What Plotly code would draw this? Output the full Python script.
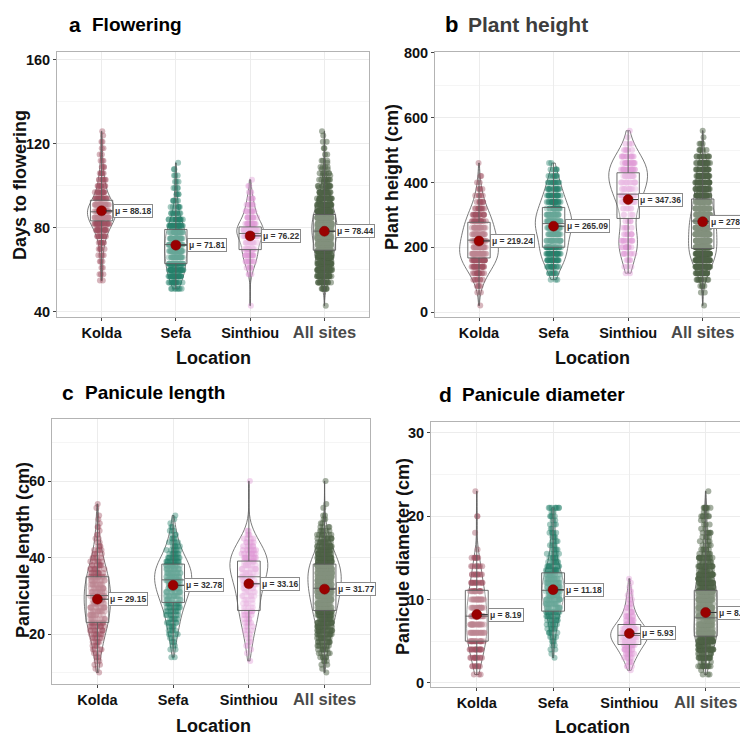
import numpy as np
import plotly.graph_objects as go

SITES = ["Kolda", "Sefa", "Sinthiou", "All sites"]

# ---------------- Panel a: days to flowering (value, count) ----------------
FLOW_KOLDA_V = [55, 58, 61, 64, 67, 70, 73, 76, 79, 82, 85, 88, 91, 94, 97, 100, 103, 106, 109, 112, 115, 118, 121, 124, 126]
FLOW_KOLDA_N = [2, 3, 2, 3, 4, 5, 8, 12, 18, 28, 36, 40, 32, 22, 14, 10, 8, 6, 4, 3, 2, 2, 2, 1, 1]
FLOW_SEFA_V = [51, 54, 57, 60, 63, 66, 69, 72, 75, 78, 81, 84, 87, 90, 93, 96, 99, 102, 105, 108, 111]
FLOW_SEFA_N = [8, 18, 26, 30, 32, 34, 36, 38, 34, 30, 26, 18, 10, 7, 5, 4, 4, 3, 3, 2, 1]
FLOW_SINT_V = [43, 58, 61, 64, 67, 70, 73, 76, 79, 82, 85, 88, 91, 94, 97, 100, 103]
FLOW_SINT_N = [1, 3, 6, 10, 14, 14, 12, 22, 30, 18, 12, 9, 7, 5, 3, 2, 1]
FLOW_Q1 = [83.4, 63.0, 69.7, 69.4]
FLOW_MED = [87.7, 72.1, 77.4, 78.5]
FLOW_Q3 = [93.2, 79.3, 80.5, 86.4]
FLOW_MEAN = [88.18, 71.81, 76.22, 78.44]

# ---------------- Panel b: plant height ----------------
HT_KOLDA_V = [20, 60, 80, 100, 120, 140, 160, 180, 200, 220, 240, 260, 280, 300, 320, 340, 360, 380, 400, 420, 460]
HT_KOLDA_N = [1, 2, 4, 8, 14, 20, 26, 30, 28, 26, 24, 22, 20, 16, 12, 8, 5, 4, 2, 2, 1]
HT_SEFA_V = [100, 120, 140, 160, 180, 200, 220, 240, 260, 280, 300, 320, 340, 360, 380, 400, 420, 440, 460]
HT_SEFA_N = [3, 8, 14, 20, 24, 24, 24, 28, 32, 34, 30, 26, 22, 18, 14, 12, 8, 5, 2]
HT_SINT_V = [120, 140, 160, 180, 200, 220, 240, 260, 280, 300, 320, 340, 360, 380, 400, 420, 440, 460, 480, 500, 520, 540, 560]
HT_SINT_N = [2, 3, 4, 7, 10, 10, 7, 5, 4, 5, 7, 9, 12, 14, 16, 18, 18, 16, 12, 5, 3, 1, 1]
HT_Q1 = [167, 200, 289, 196]
HT_MED = [222, 273, 364, 281]
HT_Q3 = [277, 323, 430, 349]
HT_MEAN = [219.24, 265.09, 347.36, 278.86]

# ---------------- Panel c: panicule length ----------------
PL_KOLDA_V = [10, 11, 12, 13, 14, 15, 16, 17, 18, 19, 20, 21, 22, 23, 24, 25, 26, 27, 28, 29, 30, 31,
              32, 33, 34, 35, 36, 37, 38, 39, 40, 41, 42, 43, 44, 45, 46, 47, 48, 49, 50, 51, 53, 54]
PL_KOLDA_N = [1, 1, 2, 2, 3, 3, 4, 4, 5, 6, 7, 8, 9, 10, 10, 11, 11, 12, 12, 12, 12, 12,
              12, 11, 11, 10, 9, 8, 7, 6, 5, 4, 4, 3, 2, 2, 2, 1, 2, 1, 1, 1, 1, 1]
PL_SEFA_V = [14, 16, 17, 18, 19, 20, 21, 22, 23, 24, 25, 26, 27, 28, 29, 30, 31, 32, 33, 34, 35,
             36, 37, 38, 39, 40, 41, 42, 43, 44, 45, 46, 47, 48, 49, 50, 51]
PL_SEFA_N = [2, 2, 2, 3, 3, 4, 5, 5, 6, 6, 7, 8, 9, 10, 12, 13, 14, 15, 16, 17, 17,
             17, 16, 15, 13, 11, 8, 7, 6, 5, 4, 3, 3, 2, 1, 1, 1]
PL_SINT_V = [13, 15, 16, 17, 18, 19, 20, 21, 22, 23, 24, 25, 26, 27, 28, 29, 30, 31, 32, 33, 34,
             35, 36, 37, 38, 39, 40, 41, 42, 43, 44, 45, 46, 47, 60]
PL_SINT_N = [1, 1, 1, 2, 2, 2, 2, 3, 3, 4, 4, 5, 5, 5, 5, 5, 6, 6, 6, 7, 7,
             8, 9, 10, 10, 10, 10, 9, 8, 6, 5, 4, 3, 2, 1]
PL_Q1 = [23.1, 28.3, 26.2, 26.2]
PL_MED = [30.1, 34.2, 35.0, 32.0]
PL_Q3 = [35.0, 38.3, 39.1, 38.3]
PL_MEAN = [29.15, 32.78, 33.16, 31.77]

# ---------------- Panel d: panicule diameter ----------------
PD_KOLDA_V = [1, 2, 3, 4, 5, 6, 7, 8, 9, 10, 11, 12, 13, 14, 15, 16, 18, 20, 23]
PD_KOLDA_N = [3, 8, 12, 16, 20, 22, 22, 22, 20, 20, 16, 14, 10, 8, 8, 1, 1, 2, 1]
PD_SEFA_V = [3, 3.5, 4, 4.5, 5, 5.5, 6, 6.5, 7, 7.5, 8, 8.5, 9, 9.5, 10, 10.5, 11, 11.5, 12, 12.5,
             13, 13.5, 14, 14.5, 15, 15.5, 16, 16.5, 17, 17.5, 18, 18.5, 19, 19.5, 20, 20.5, 21]
PD_SEFA_N = [1, 1, 2, 2, 3, 4, 5, 6, 7, 8, 10, 12, 14, 16, 18, 19, 20, 20, 19, 17,
             15, 12, 10, 8, 7, 6, 5, 4, 4, 4, 5, 2, 3, 2, 4, 2, 8]
PD_SINT_V = [1.5, 2, 2.5, 3, 3.5, 4, 4.5, 5, 5.5, 6, 6.5, 7, 7.5, 8, 8.5, 9, 9.5, 10, 10.5, 11, 11.5, 12, 12.5]
PD_SINT_N = [1, 3, 4, 6, 8, 10, 12, 16, 18, 18, 16, 12, 9, 7, 5, 4, 3, 3, 2, 2, 1, 1, 1]
PD_Q1 = [5.0, 8.6, 4.6, 5.6]
PD_MED = [8.0, 11.1, 5.7, 7.8]
PD_Q3 = [11.1, 13.2, 7.0, 11.1]
PD_MEAN = [8.19, 11.18, 5.93, 8.44]

# ---------------- styling ----------------
W, H = 740, 736
FONT = "Liberation Sans, Arial, sans-serif"
PT_COLORS = ["rgba(160,80,98,0.42)", "rgba(38,128,108,0.42)", "rgba(224,156,214,0.42)", "rgba(78,98,70,0.5)"]


def fx(px):
    return px / W


def fy(py):
    return 1 - py / H


def expand(v, n):
    return list(np.repeat(np.array(v, dtype=float), n))


panels = [
    dict(letter="a", title="Flowering", tcolor="#000", ytitle="Days to flowering",
         data=[(FLOW_KOLDA_V, FLOW_KOLDA_N), (FLOW_SEFA_V, FLOW_SEFA_N), (FLOW_SINT_V, FLOW_SINT_N)],
         q1=FLOW_Q1, med=FLOW_MED, q3=FLOW_Q3, mean=FLOW_MEAN,
         xdom=(57, 369), ydom=(52, 317), xr=(-0.6, 3.6), yr=(37.6, 163.8), dtick=40, mdtick=20,
         vw=[0.38, 0.30, 0.36, 0.34], lax=[11, 11, 11, 11],
         tpos=(67, 24), tsize=(21, 19), ytpos=(20, 185), xtpos=(213, 358)),
    dict(letter="b", title="Plant height", tcolor="#3d3d3d", ytitle="Plant height (cm)",
         data=[(HT_KOLDA_V, HT_KOLDA_N), (HT_SEFA_V, HT_SEFA_N), (HT_SINT_V, HT_SINT_N)],
         q1=HT_Q1, med=HT_MED, q3=HT_Q3, mean=HT_MEAN,
         xdom=(435, 740), ydom=(52, 317), xr=(-0.59, 3.50), yr=(-15.4, 803), dtick=200, mdtick=100,
         vw=[0.52, 0.49, 0.52, 0.38], lax=[11, 11, 10, 6],
         tpos=(443, 25), tsize=(22, 21), ytpos=(392, 177), xtpos=(592, 358)),
    dict(letter="c", title="Panicule length", tcolor="#000", ytitle="Panicule length (cm)",
         data=[(PL_KOLDA_V, PL_KOLDA_N), (PL_SEFA_V, PL_SEFA_N), (PL_SINT_V, PL_SINT_N)],
         q1=PL_Q1, med=PL_MED, q3=PL_Q3, mean=PL_MEAN,
         xdom=(52, 370), ydom=(419, 684), xr=(-0.6, 3.6), yr=(7.0, 76.2), dtick=20, mdtick=10,
         vw=[0.35, 0.49, 0.50, 0.44], lax=[11, 11, 11, 11],
         tpos=(60, 392), tsize=(21, 19), ytpos=(23, 550), xtpos=(213, 726)),
    dict(letter="d", title="Panicule diameter", tcolor="#000", ytitle="Panicule diameter (cm)",
         data=[(PD_KOLDA_V, PD_KOLDA_N), (PD_SEFA_V, PD_SEFA_N), (PD_SINT_V, PD_SINT_N)],
         q1=PD_Q1, med=PD_MED, q3=PD_Q3, mean=PD_MEAN,
         xdom=(431, 740), ydom=(422, 687), xr=(-0.6, 3.45), yr=(-0.5, 31.3), dtick=10, mdtick=5,
         vw=[0.27, 0.29, 0.49, 0.30], lax=[11, 11, 11, 11],
         tpos=(437, 394), tsize=(21, 19), ytpos=(403, 557), xtpos=(592, 727)),
]

fig = go.Figure()
annotations = []
layout_axes = {}

ticktext = ["Kolda", "Sefa", "Sinthiou",
            "<span style='font-size:16.5px;color:#4a4a4a'>All sites</span>"]

for i, p in enumerate(panels):
    sfx = "" if i == 0 else str(i + 1)
    xa, ya = "x" + sfx, "y" + sfx
    groups = [expand(v, n) for v, n in p["data"]]
    groups.append(groups[0] + groups[1] + groups[2])

    # violins (outline only)
    for k, site in enumerate(SITES):
        vals = groups[k]
        fig.add_trace(go.Violin(
            x=[site] * len(vals), y=vals, xaxis=xa, yaxis=ya,
            points=False, spanmode="hard", scalemode="width", width=p["vw"][k],
            line=dict(color="#5a5a5a", width=0.8), fillcolor="rgba(0,0,0,0)",
            box_visible=False, meanline_visible=False, showlegend=False, hoverinfo="skip"))

    # jittered points
    for k, site in enumerate(SITES):
        vals = groups[k]
        fig.add_trace(go.Box(
            x=[site] * len(vals), y=vals, xaxis=xa, yaxis=ya,
            boxpoints="all", jitter=1, pointpos=0, width=0.2,
            marker=dict(color=PT_COLORS[k], size=6, line=dict(width=0)),
            line=dict(width=0, color="rgba(0,0,0,0)"), fillcolor="rgba(0,0,0,0)",
            showlegend=False, hoverinfo="skip"))

    # box plots from quartiles
    lowf = [min(g) for g in groups]
    upf = [max(g) for g in groups]
    fig.add_trace(go.Box(
        x=SITES, q1=p["q1"], median=p["med"], q3=p["q3"], lowerfence=lowf, upperfence=upf,
        xaxis=xa, yaxis=ya, width=0.3, whiskerwidth=0, boxpoints=False,
        line=dict(color="#5e5e5e", width=0.9), fillcolor="rgba(255,255,255,0.3)",
        showlegend=False, hoverinfo="skip"))

    # means
    fig.add_trace(go.Scatter(
        x=SITES, y=p["mean"], xaxis=xa, yaxis=ya, mode="markers",
        marker=dict(color="#9a0000", size=10, line=dict(color="#7a0000", width=0.5)),
        showlegend=False, hoverinfo="skip"))

    for k, site in enumerate(SITES):
        annotations.append(dict(
            x=site, y=p["mean"][k], xref=xa, yref=ya, text="<b>μ = %.2f</b>" % p["mean"][k],
            showarrow=True, arrowhead=0, arrowwidth=1, arrowcolor="#333", ax=p["lax"][k], ay=0,
            standoff=4, xanchor="left", font=dict(family=FONT, size=8.5, color="#333"),
            bgcolor="white", bordercolor="#8a8a8a", borderwidth=1, borderpad=1))

    # axes
    layout_axes["xaxis" + sfx] = dict(
        domain=[fx(p["xdom"][0]), min(1.0, fx(p["xdom"][1]))], anchor=ya, type="category",
        categoryorder="array", categoryarray=SITES, range=list(p["xr"]),
        tickmode="array", tickvals=SITES, ticktext=ticktext, automargin=False,
        tickfont=dict(family=FONT, size=14.5, color="#111", weight="bold"),
        showgrid=True, gridcolor="#ececec", gridwidth=1, zeroline=False,
        showline=True, mirror=True, linecolor="#b3b3b3", linewidth=1,
        ticks="outside", ticklen=3, tickcolor="#444", fixedrange=True)
    layout_axes["yaxis" + sfx] = dict(
        domain=[fy(p["ydom"][1]), fy(p["ydom"][0])], anchor=xa, range=list(p["yr"]),
        tick0=0, dtick=p["dtick"], automargin=False,
        minor=dict(dtick=p["mdtick"], tick0=0, showgrid=True, gridcolor="#f5f5f5", gridwidth=1, ticklen=0),
        tickfont=dict(family=FONT, size=14.5, color="#111", weight="bold"),
        showgrid=True, gridcolor="#ececec", gridwidth=1, zeroline=False,
        showline=True, mirror=True, linecolor="#b3b3b3", linewidth=1,
        ticks="outside", ticklen=3, tickcolor="#444", fixedrange=True)

    # titles
    annotations.append(dict(x=fx(p["tpos"][0]), y=fy(p["tpos"][1]), xref="paper", yref="paper",
                            text="<b>%s</b>" % p["letter"], showarrow=False, xanchor="left", yanchor="middle",
                            font=dict(family=FONT, size=p["tsize"][0], color="#000")))
    annotations.append(dict(x=fx(p["tpos"][0] + 23), y=fy(p["tpos"][1]), xref="paper", yref="paper",
                            text="<b>%s</b>" % p["title"], showarrow=False, xanchor="left", yanchor="middle",
                            font=dict(family=FONT, size=p["tsize"][1], color=p["tcolor"])))
    annotations.append(dict(x=fx(p["ytpos"][0]), y=fy(p["ytpos"][1]), xref="paper", yref="paper",
                            text="<b>%s</b>" % p["ytitle"], showarrow=False, textangle=-90,
                            xanchor="center", yanchor="middle",
                            font=dict(family=FONT, size=18, color="#111")))
    annotations.append(dict(x=fx(p["xtpos"][0]), y=fy(p["xtpos"][1]), xref="paper", yref="paper",
                            text="<b>Location</b>", showarrow=False, xanchor="center", yanchor="middle",
                            font=dict(family=FONT, size=18, color="#111")))

fig.update_layout(
    width=W, height=H, margin=dict(l=0, r=0, t=0, b=0, autoexpand=False),
    paper_bgcolor="white", plot_bgcolor="white",
    boxmode="overlay", violinmode="overlay", showlegend=False,
    font=dict(family=FONT), annotations=annotations, **layout_axes)

fig.write_html("out.html", config={"displayModeBar": False, "staticPlot": True},
               post_script="document.body.style.margin='0px';document.body.style.overflow='hidden';")
